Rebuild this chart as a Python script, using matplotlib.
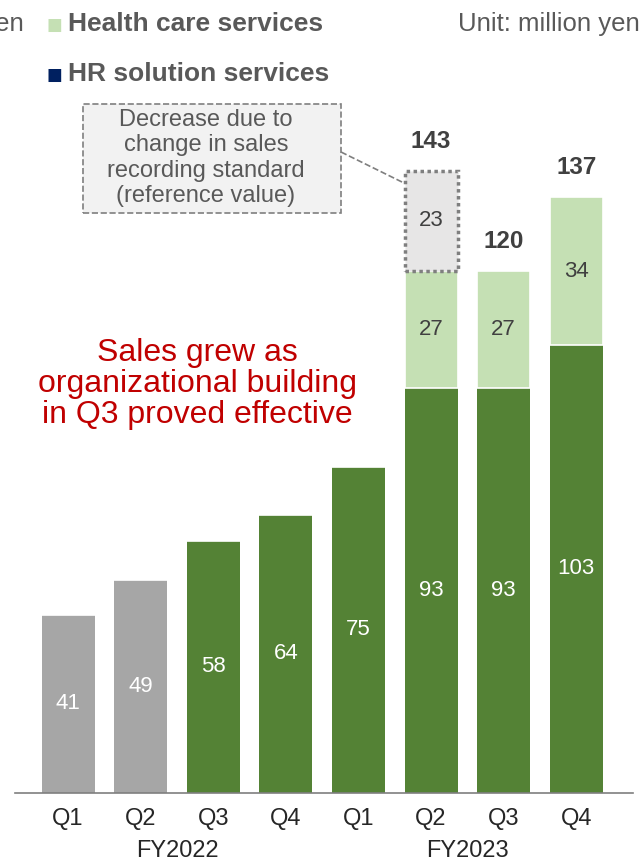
import matplotlib.pyplot as plt
from matplotlib.patches import Rectangle
from matplotlib.transforms import blended_transform_factory

plt.rcParams['font.family'] = ['Liberation Sans', 'DejaVu Sans']

quarters = ['Q1', 'Q2', 'Q3', 'Q4', 'Q1', 'Q2', 'Q3', 'Q4']
years = ['FY2022', 'FY2023']
hr_sales = [41, 49, 58, 64, 75, 93, 93, 103]
health_sales = [0, 0, 0, 0, 0, 27, 27, 34]
ref_decrease = [0, 0, 0, 0, 0, 23, 0, 0]
totals = [None, None, None, None, None, 143, 120, 137]

gray = '#A6A6A6'
dark_green = '#548235'
light_green = '#C5E0B4'
navy = '#002060'
text_gray = '#595959'

W, H = 643, 865
fig = plt.figure(figsize=(W / 100, H / 100), dpi=100)
ax = fig.add_axes([15 / W, 72 / H, 618 / W, 793 / H])
ax.set_xlim(-0.73, 7.78)
ax.set_ylim(0, 182.3)

x = list(range(len(quarters)))
w = 0.73
colors = [gray, gray] + [dark_green] * 6

ax.bar(x, hr_sales, w, color=colors, zorder=2)
ax.bar(x, health_sales, w, bottom=hr_sales, color=light_green,
       edgecolor='white', linewidth=1.2, zorder=2)

for i in x:
    ax.text(i, hr_sales[i] / 2, str(hr_sales[i]), ha='center', va='center',
            color='white', fontsize=16)
    if health_sales[i]:
        ax.text(i, hr_sales[i] + health_sales[i] / 2, str(health_sales[i]),
                ha='center', va='center', color='#404040', fontsize=16)

# reference-value box on top of FY2023 Q2
base = [h + g for h, g in zip(hr_sales, health_sales)]
for i in x:
    if ref_decrease[i]:
        ax.bar(i, ref_decrease[i], w, bottom=base[i], color='#E7E6E6',
               edgecolor='#7F7F7F', linewidth=2.5, linestyle=(0, (1, 1)),
               zorder=2)
        ax.text(i, base[i] + ref_decrease[i] / 2, str(ref_decrease[i]),
                ha='center', va='center', color='#404040', fontsize=16)

for i in x:
    if totals[i] is not None:
        top = base[i] + ref_decrease[i]
        ax.annotate(str(totals[i]), (i, top), xytext=(0, 13),
                    textcoords='offset points', ha='center', va='bottom',
                    fontsize=17.5, fontweight='bold', color='#404040')

for s in ['top', 'left', 'right']:
    ax.spines[s].set_visible(False)
ax.spines['bottom'].set_color('#7F7F7F')
ax.spines['bottom'].set_linewidth(1.2)
ax.set_yticks([])
ax.set_xticks(x)
ax.set_xticklabels(quarters, fontsize=17, color='#262626')
ax.tick_params(axis='x', length=0, pad=11)

trans = blended_transform_factory(ax.transData, fig.transFigure)
ax.text(1.5, 1 - 851 / H, years[0], transform=trans, ha='center',
        va='center', fontsize=17, color='#262626')
ax.text(5.5, 1 - 851 / H, years[1], transform=trans, ha='center',
        va='center', fontsize=17, color='#262626')

# legend and unit
fig.text(54 / W, 1 - 25 / H, '■', color=light_green, fontsize=12,
         ha='center', va='center', family='DejaVu Sans')
fig.text(68 / W, 1 - 24 / H, 'Health care services', color=text_gray,
         fontsize=19, fontweight='bold', ha='left', va='center')
fig.text(54 / W, 1 - 75 / H, '■', color=navy, fontsize=12,
         ha='center', va='center', family='DejaVu Sans')
fig.text(68 / W, 1 - 74 / H, 'HR solution services', color=text_gray,
         fontsize=19, fontweight='bold', ha='left', va='center')
fig.text(640 / W, 1 - 24 / H, 'Unit: million yen', color=text_gray,
         fontsize=18.5, ha='right', va='center')
fig.text(24 / W, 1 - 24 / H, 'Unit: million yen', color=text_gray,
         fontsize=18.5, ha='right', va='center')

# note box with connector
fig.add_artist(Rectangle((83 / W, 1 - 213 / H), 258 / W, 109 / H,
                         transform=fig.transFigure, facecolor='#F2F2F2',
                         edgecolor='#7F7F7F', linestyle='--', linewidth=1.2))
fig.text(206 / W, 1 - 158 / H,
         'Decrease due to\nchange in sales\nrecording standard\n(reference value)',
         ha='center', va='center', fontsize=17, color=text_gray,
         linespacing=1.2)
ax.plot([341 / W, 404 / W], [1 - 152 / H, 1 - 183 / H],
        transform=fig.transFigure, color='#7F7F7F', linestyle='--',
        linewidth=1.2)

fig.text(197 / W, 1 - 384 / H,
         'Sales grew as\norganizational building\nin Q3 proved effective',
         ha='center', va='center', fontsize=23, color='#C00000',
         linespacing=1.05)

fig.savefig('out.png', dpi=100)
